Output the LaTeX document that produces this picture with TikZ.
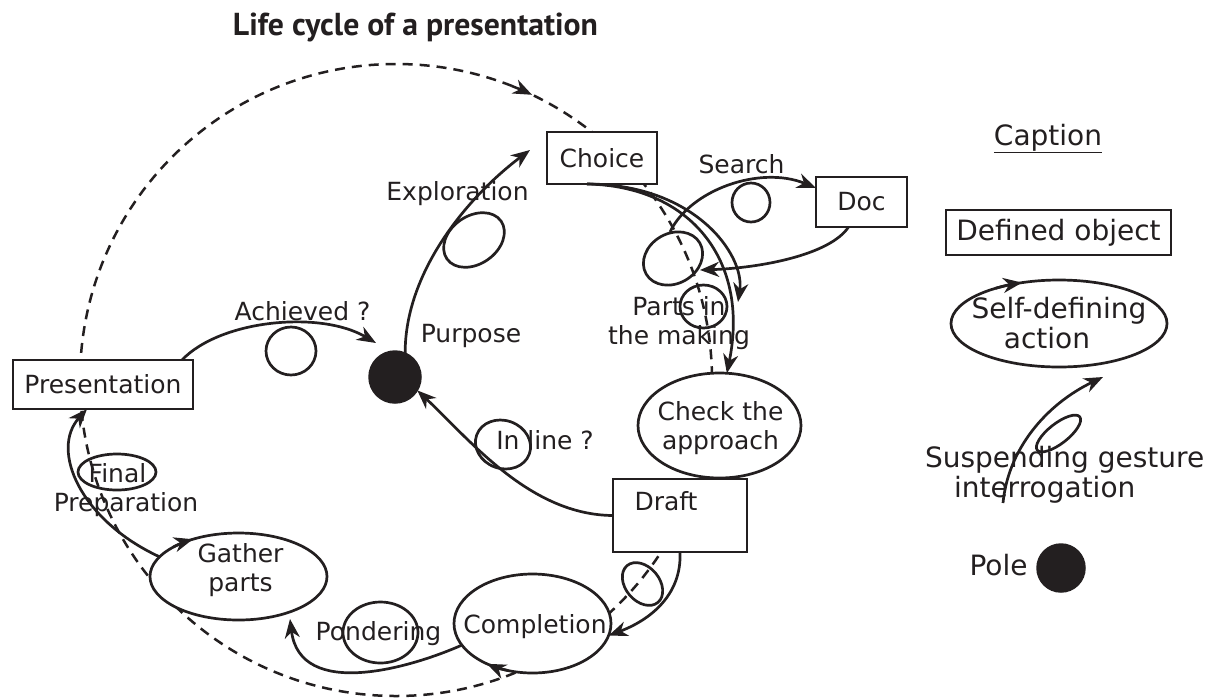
\documentclass[tikz,border=0pt]{standalone}
\usepackage{fontspec}
\setmainfont{DejaVu Sans}
\newfontfamily\titlefont{PT Sans}
\usetikzlibrary{arrows.meta,shapes.geometric}
\definecolor{ink}{RGB}{35,31,32}
% zero-size text block: #1 = twice the horizontal shift, #2 = raise of first baseline
\newcommand{\ztx}[3]{\smash{\makebox[0pt]{\hspace*{#1}\raisebox{#2}{\begin{tabular}[t]{@{}c@{}}#3\end{tabular}}}}}
\begin{document}
\begin{tikzpicture}[x=1pt,y=-1pt,
  basefont/.style={font=\fontsize{25}{29.5}\selectfont, text=ink, inner sep=0pt, outer sep=0pt},
  legfont/.style={font=\fontsize{28}{30}\selectfont},
  obj/.style={basefont, draw=ink, line width=2.7pt, fill=white, rectangle},
  act/.style={basefont, draw=ink, line width=2.7pt, fill=white, ellipse},
  lab/.style={basefont, anchor=base},
  tipst/.style={-{Stealth[length=19pt,width=15pt,inset=6pt]}},
  conn/.style={draw=ink, line width=2.7pt, tipst},
  loopc/.style={draw=ink, line width=2.7pt},
  cyc/.style={draw=ink, line width=2.5pt, dash pattern=on 10pt off 7pt},
  polest/.style={circle, fill=ink, draw=ink, line width=1.5pt, inner sep=0pt, outer sep=0pt}]
\useasboundingbox (0,0) rectangle (1217,697);

% title
\node[anchor=base, text=ink, inner sep=0pt] (title) at (415.5,35)
  {\resizebox{365pt}{!}{\titlefont\bfseries\fontsize{29}{32}\selectfont Life cycle of a presentation}};

% dashed life cycle
\coordinate (cc) at (396,380);
\draw[cyc] (cc) circle[radius=316];
\draw[draw=ink, line width=2.5pt, tipst]
  (396,380) ++(-68.5:316) arc[start angle=-68.5, end angle=-64.5, radius=316];

% defined objects
\node[obj, minimum width=110pt, minimum height=52pt] (choice) at (602,158) {Choice};
\node[obj, minimum width=91pt, minimum height=50pt] (doc) at (861.5,202) {Doc};
\node[obj, minimum width=180pt, minimum height=49pt] (pres) at (103,384.5) {Presentation};
\node[obj, minimum width=134pt, minimum height=73pt] (draft) at (680,515.5) {\ztx{-28pt}{5.5pt}{Draft}};

% self-defining actions
\node[act, minimum width=163pt, minimum height=105pt] (check) at (719.5,425.5) {\ztx{2pt}{5.5pt}{Check the\\approach}};
\node[act, minimum width=157pt, minimum height=99pt] (compl) at (532.5,623.5) {\ztx{5pt}{-9.5pt}{Completion}};
\node[act, minimum width=177pt, minimum height=87pt] (gather) at (238.5,576.5) {\ztx{4pt}{14.5pt}{Gather\\parts}};

% pole
\node[polest, minimum size=52pt] (pole) at (395,377) {};

% labels
\node[lab] (explo) at (457.5,200) {Exploration};
\node[lab] (search) at (741.5,173) {Search};
\node[basefont] (parts) at (679,315) {\ztx{0pt}{0pt}{Parts in\\the making}};
\node[lab] (purpose) at (471,342) {Purpose};
\node[lab] (achieved) at (302.5,320) {Achieved ?};
\node[lab] (inline) at (545,449) {In line ?};
\node[lab] (ponder) at (378.5,640) {Pondering};
\node[basefont] (finalprep) at (126,482) {\ztx{0pt}{0pt}{\hspace*{-17pt}Final\\Preparation}};

% connectors
\coordinate (exE) at (530,150);
\draw[conn] (pole.67) .. controls (405,270) and (470,195) .. (exE);
\draw[conn] ([xshift=-15pt]choice.south) .. controls (690,186) and (750,260) .. (check.82);
\coordinate (bE) at (738,302);
\draw[conn] ([xshift=-15pt]choice.south) .. controls (695,184) and (745,255) .. (bE);
\coordinate (sS) at (670,232);
\draw[conn] (sS) .. controls (690,190) and (760,165) .. ([yshift=14pt]doc.west);
\coordinate (dE) at (700,270);
\draw[conn] ([xshift=-13pt]doc.south) .. controls (830,255) and (760,268) .. (dE);
\coordinate (aE) at (376,343);
\draw[conn] ([xshift=-11pt]pres.north east) .. controls (220,320) and (320,310) .. (aE);
\draw[conn] (draft.west) .. controls (530,515) and (470,440) .. (pole.-31);
\draw[conn] (draft.south) .. controls (682,595) and (650,620) .. (compl.-9);
\coordinate (pE) at (290,619);
\draw[conn] (compl.197) .. controls (410,668) and (300,700) .. (pE);
\draw[conn] (gather.166) .. controls (80,520) and (50,450) .. ([xshift=-16pt]pres.south);

% direction marks on the actions
\draw[conn] ([shift={(-137:88.5 and 43.5)}]gather.center) arc[start angle=-137, end angle=-121, x radius=88.5, y radius=43.5];
\draw[conn] ([shift={(108:78.5 and 49.5)}]compl.center) arc[start angle=108, end angle=125.5, x radius=78.5, y radius=49.5];

% suspending loops
\draw[loopc, rotate around={35:(474,240)}] (474,240) ellipse[x radius=33, y radius=24];
\draw[loopc] (751,202.5) ellipse[x radius=19, y radius=19.5];
\draw[loopc, rotate around={30:(673,258.5)}] (673,258.5) ellipse[x radius=31, y radius=25];
\draw[loopc] (703.5,306.5) ellipse[x radius=23.5, y radius=21.5];
\draw[loopc] (291,351) ellipse[x radius=25, y radius=24];
\draw[loopc, rotate around={-20:(503,444.5)}] (503,444.5) ellipse[x radius=28, y radius=24];
\draw[loopc, rotate around={-50:(642.5,584)}] (642.5,584) ellipse[x radius=24, y radius=17];
\draw[loopc] (380.5,632.5) ellipse[x radius=37.5, y radius=30.5];
\draw[loopc] (117,472) ellipse[x radius=39, y radius=18];

% caption (legend)
\node[lab, legfont] (cap) at (1048,145) {\underline{Caption}};
\node[obj, legfont, minimum width=225pt, minimum height=45pt] (defobj) at (1058.5,232.5) {Defined object};
\node[act, legfont, minimum width=216pt, minimum height=87pt] (selfdef) at (1059,323.5) {\ztx{0pt}{5.5pt}{Self-defining\\\hspace*{-24pt}action}};
\draw[conn] ([shift={(-126:108 and 43.5)}]selfdef.center) arc[start angle=-126, end angle=-110, x radius=108, y radius=43.5];
\coordinate (gS) at (1003,503);
\coordinate (gE) at (1103,377);
\draw[conn] (gS) .. controls (1008,450) and (1045,405) .. (gE);
\draw[loopc, rotate around={38:(1058.5,433.5)}] (1058.5,433.5) ellipse[x radius=27, y radius=10];
\node[basefont, legfont] (susp) at (925,467) {\smash{\rlap{\begin{tabular}[t]{@{}l@{}}Suspending gesture\\\hspace*{29pt}interrogation\end{tabular}}}};
\node[lab, legfont] (polelab) at (998.5,575) {Pole};
\node[polest, minimum size=48pt] (legpole) at (1061,568) {};
\end{tikzpicture}
\end{document}
